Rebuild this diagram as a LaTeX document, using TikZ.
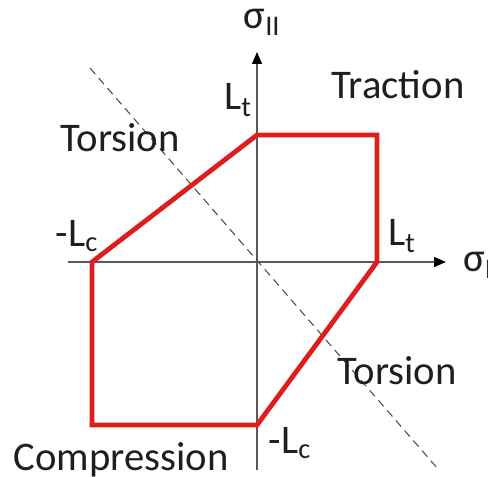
\documentclass[tikz,border=0pt]{standalone}
\usepackage{fontspec}
\setmainfont{Carlito}
\usetikzlibrary{arrows.meta}
\definecolor{envred}{RGB}{222,30,30}
\begin{document}
\begin{tikzpicture}[x=0.75pt,y=-0.75pt,
  lbl/.style={font=\fontsize{30.5}{36}\selectfont, text=black!88, inner sep=0pt},
  axis/.style={draw=black!65, line width=1pt, -{Triangle[length=9pt,width=7.5pt,color=black]}},
  env/.style={draw=envred, line width=3.6pt, line join=miter},
  diag/.style={draw=black!70, line width=0.8pt, dash pattern=on 6pt off 4pt}]
\useasboundingbox (0,0) rectangle (488,477);
% axes
\coordinate (xs) at (68,262);
\coordinate (xe) at (446,262);
\coordinate (ys) at (257,470);
\coordinate (ye) at (257,52);
\draw[axis] (xs) -- (xe);
\draw[axis] (ys) -- (ye);
% dashed line
\coordinate (d1) at (90,68);
\coordinate (d2) at (438,469);
\draw[diag] (d1) -- (d2);
% envelope
\coordinate (p1) at (257,135);
\coordinate (p2) at (377,135);
\coordinate (p3) at (377,262);
\coordinate (p4) at (257,425);
\coordinate (p5) at (92,425);
\coordinate (p6) at (92,262);
\draw[env] (p1) -- (p2) -- (p3) -- (p4) -- (p5) -- (p6) -- cycle;
% labels
\node[lbl] (sII) at (262,22) {σ\textsubscript{II}};
\node[lbl, anchor=west] (sI) at (463,265) {σ\textsubscript{I}};
\node[lbl] (Lt1) at (238,100) {L\textsubscript{t}};
\node[lbl] (Lt2) at (402,236) {L\textsubscript{t}};
\node[lbl] (Lc1) at (77,236) {-L\textsubscript{c}};
\node[lbl] (Lc2) at (290,443) {-L\textsubscript{c}};
\node[lbl] (trac) at (398,85) {Traction};
\node[lbl] (tor1) at (120,138) {Torsion};
\node[lbl] (tor2) at (397,371) {Torsion};
\node[lbl] (comp) at (121,460) {Compression};
\end{tikzpicture}
\end{document}
